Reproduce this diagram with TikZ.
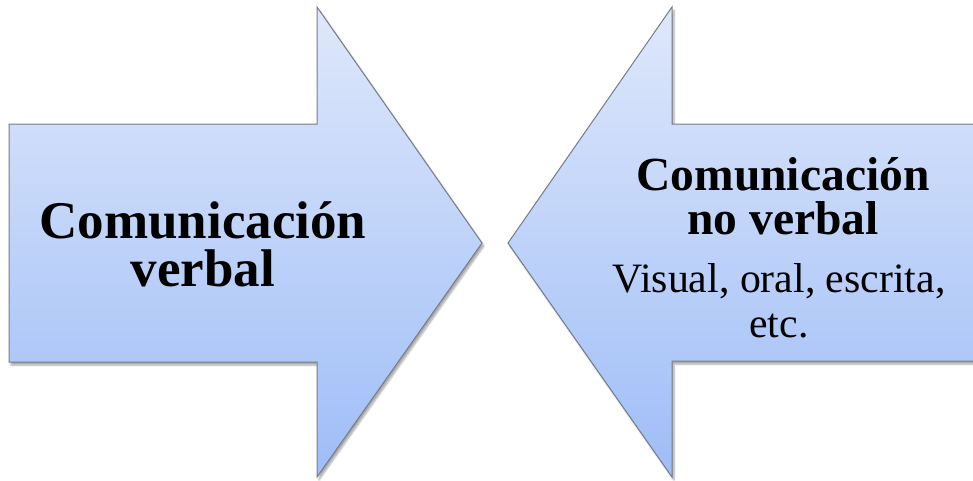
\documentclass[tikz,border=0pt]{standalone}
\usepackage{fontspec}
\setmainfont{Liberation Serif}
\usetikzlibrary{shadows.blur}
\definecolor{gtop}{RGB}{223,232,251}
\definecolor{gbot}{RGB}{158,189,247}
\definecolor{edge}{RGB}{118,124,135}
\tikzset{
  arrowshape/.style={top color=gtop, bottom color=gbot, draw=edge, line width=1pt, line join=miter,
    blur shadow={shadow xshift=2pt, shadow yshift=-3pt, shadow blur steps=6, shadow opacity=35}},
  titletext/.style={font=\bfseries, align=center, inner sep=0pt, text=black},
  subtext/.style={align=center, inner sep=0pt, text=black}
}
\begin{document}
\begin{tikzpicture}[x=1pt,y=-1pt]
\useasboundingbox (0,0) rectangle (973,480);
\path[arrowshape] (9,124) -- (317,124) -- (317,7) -- (482,243) -- (317,477) -- (317,362) -- (9,362) -- cycle;
\path[arrowshape] (508,243) -- (672,7) -- (672,124) -- (990,124) -- (990,361) -- (672,361) -- (672,477) -- cycle;
\node[titletext, font=\bfseries\fontsize{53}{48}\selectfont] (lt) at (203,244) {Comunicación\\verbal};
\node[titletext, font=\bfseries\fontsize{47.5}{44}\selectfont] (rt) at (783,196) {Comunicación\\no verbal};
\node[subtext, font=\fontsize{41.8}{45}\selectfont, anchor=north] (rs) at (779,263) {Visual, oral, escrita,\\etc.};
\end{tikzpicture}
\end{document}
